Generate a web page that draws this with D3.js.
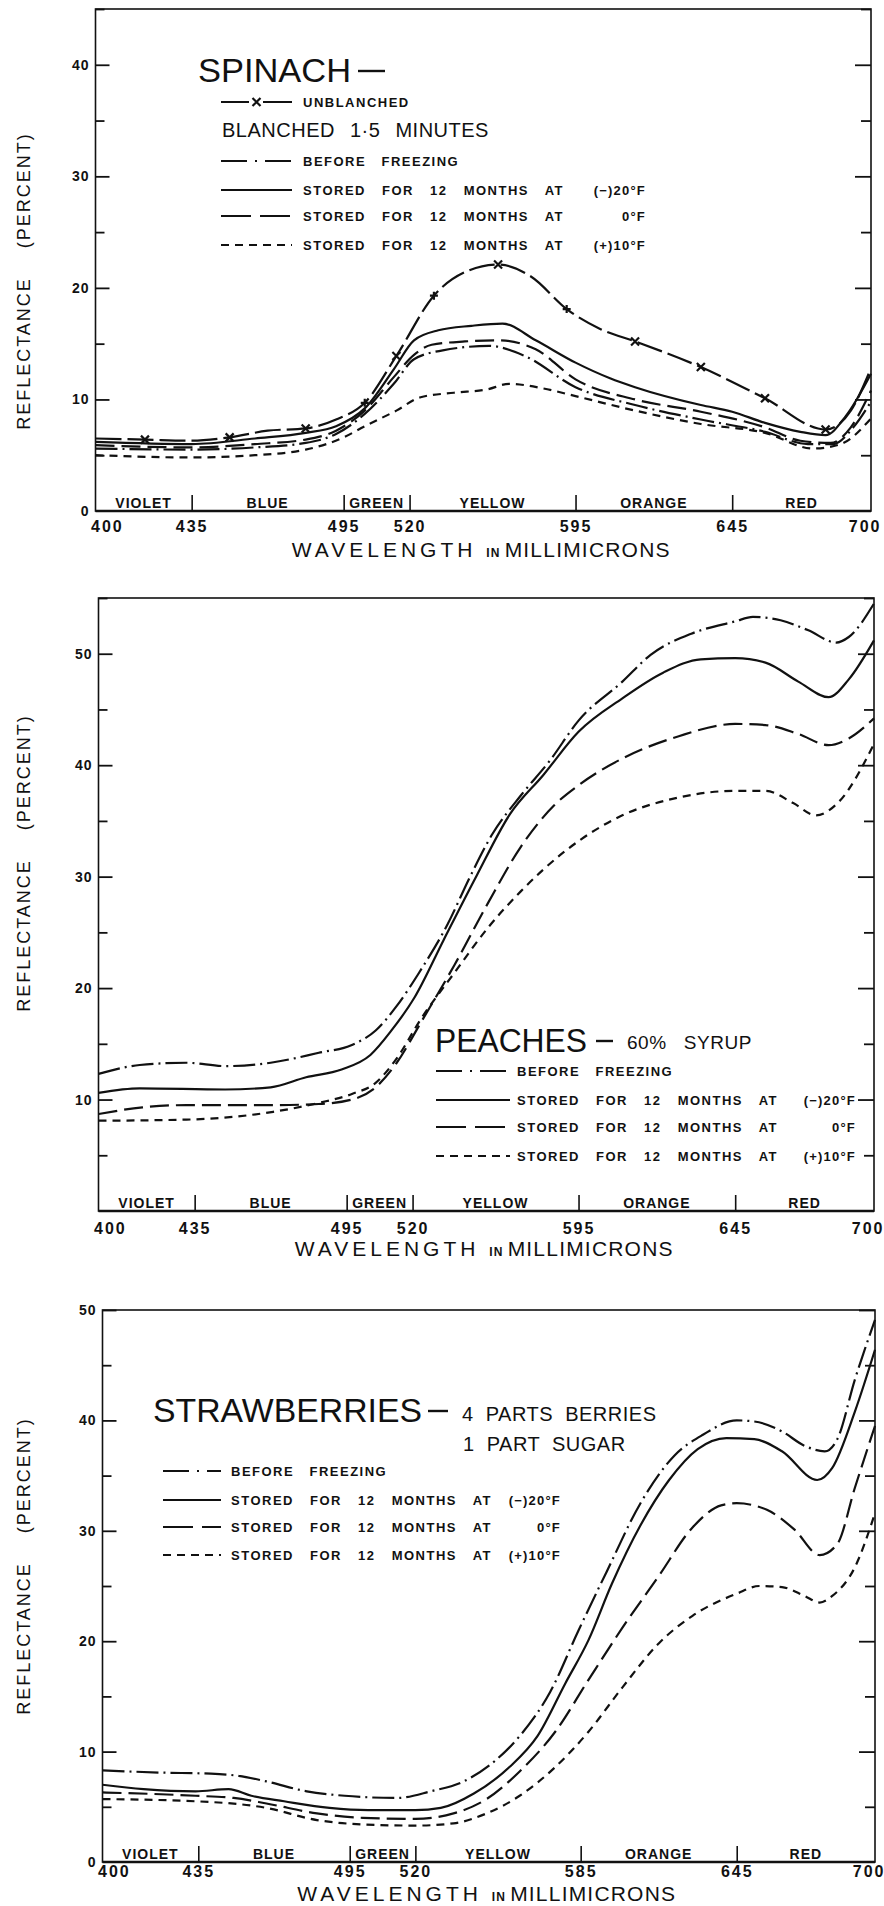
<!DOCTYPE html>
<html><head><meta charset="utf-8">
<script src="https://cdn.jsdelivr.net/npm/d3@7"></script>
<style>
html,body{margin:0;padding:0;background:#fff;}
svg{display:block;}
text{font-family:"Liberation Sans",Arial,sans-serif;fill:#111;}
</style></head><body>
<svg id="c" width="884" height="1906"></svg>
<script>
// ---------------- DATA ----------------
const bandNames = ["VIOLET","BLUE","GREEN","YELLOW","ORANGE","RED"];
const spinachXTicks = [400,435,495,520,595,645,700];
const peachXTicks   = [400,435,495,520,595,645,700];
const strawXTicks   = [400,435,495,520,585,645,700];
const spinachYLabels = [0,10,20,30,40];
const peachYLabels   = [10,20,30,40,50];
const strawYLabels   = [0,10,20,30,40,50];
const temps = ["(\u2212)20\u00B0F","0\u00B0F","(+)10\u00B0F"];
const storedLabel = "STORED FOR 12 MONTHS AT";
const beforeLabel = "BEFORE   FREEZING";

// Spinach
const spinachUnblanched = [[400,6.5],[418,6.4],[435,6.3],[450,6.6],[465,7.2],[480,7.4],[492,8.2],[503,9.7],[515,13.9],[531,19.3],[546,21.5],[560,22.1],[575,21.0],[591,18.1],[603,16.3],[614,15.2],[635,12.9],[658,10.1],[682,7.3],[692,9.0],[700,12.8]];
const spinachMarkX = [418,450,480,515,560,614,635,658,682];
const spinachMarkPlus = [503,531,591];
const spinachBefore = [[400,5.6],[435,5.5],[460,5.7],[480,6.1],[492,6.9],[503,8.7],[514,11.4],[522,13.6],[535,14.4],[556,14.8],[572,13.9],[595,11.1],[614,9.5],[635,8.2],[658,7.1],[675,6.0],[685,6.0],[693,7.5],[700,9.8]];
const spinachMinus20 = [[400,6.2],[435,6.0],[460,6.5],[480,7.0],[492,7.6],[503,9.2],[514,12.7],[522,15.3],[533,16.2],[548,16.6],[562,16.8],[577,15.3],[595,13.3],[606,11.9],[614,11.1],[635,9.5],[645,8.9],[658,7.9],[672,7.1],[682,6.8],[690,8.5],[700,12.3]];
const spinachZero = [[400,5.9],[435,5.7],[460,6.0],[480,6.4],[492,7.2],[503,9.0],[514,12.0],[522,14.0],[530,14.9],[545,15.2],[560,15.3],[577,14.5],[595,11.8],[614,10.0],[635,8.9],[658,7.5],[672,6.3],[684,6.1],[692,7.5],[700,10.8]];
const spinachPlus10 = [[400,5.0],[435,4.8],[460,5.0],[480,5.5],[495,6.6],[503,7.6],[515,9.0],[525,10.2],[540,10.6],[555,10.9],[565,11.4],[580,11.0],[595,10.3],[614,9.0],[635,7.8],[658,7.0],[677,5.6],[688,6.0],[700,8.3]];

// Peaches
const peachBefore = [[400,12.3],[415,13.1],[432,13.3],[447,13.0],[465,13.3],[484,14.2],[497,14.9],[506,16.2],[514,18.4],[523,21.4],[536,25.8],[546,30.0],[556,33.8],[569,37.3],[582,40.4],[595,44.0],[609,47.5],[618,49.9],[631,51.8],[645,52.9],[652,53.3],[663,53.0],[674,52.1],[685,51.0],[690,51.5],[700,54.5]];
const peachMinus20 = [[400,10.6],[415,11.0],[447,10.9],[465,11.1],[479,12.0],[493,12.7],[504,14.0],[512,16.2],[521,19.2],[534,24.3],[549,30.1],[564,35.6],[579,39.1],[595,43.0],[609,46.0],[622,48.3],[634,49.5],[645,49.6],[657,49.2],[670,47.5],[682,46.1],[690,47.7],[700,51.2]];
const peachZero = [[400,8.7],[416,9.3],[432,9.5],[466,9.5],[484,9.6],[497,10.0],[506,11.1],[514,13.3],[524,17.0],[539,22.1],[554,27.6],[569,32.7],[584,36.4],[595,38.2],[609,40.6],[627,42.6],[645,43.7],[657,43.6],[670,42.8],[682,41.8],[690,42.4],[700,44.2]];
const peachPlus10 = [[400,8.1],[432,8.2],[466,8.9],[484,9.7],[497,10.5],[506,11.5],[514,13.7],[524,17.3],[539,21.4],[554,25.4],[569,28.7],[589,32.3],[609,35.5],[627,37.1],[645,37.7],[657,37.7],[668,36.6],[677,35.5],[686,36.7],[700,41.9]];

// Strawberries
const strawBefore = [[400,8.3],[421,8.1],[440,8.0],[451,7.8],[462,7.3],[478,6.4],[493,6.0],[513,5.8],[526,6.4],[539,7.3],[552,9.3],[561,11.4],[573,15.4],[584,20.9],[595,26.3],[608,32.5],[621,36.8],[632,38.7],[645,40.0],[652,39.9],[663,39.0],[672,37.7],[680,37.2],[685,38.3],[692,43.7],[700,49.1]];
const strawMinus20 = [[400,7.0],[415,6.6],[434,6.4],[447,6.6],[456,6.0],[469,5.5],[487,4.9],[502,4.7],[520,4.7],[530,4.9],[543,6.2],[557,8.6],[568,11.4],[579,16.2],[588,20.1],[597,25.2],[608,30.5],[619,34.6],[630,37.4],[641,38.4],[652,38.3],[663,37.2],[677,34.6],[683,35.7],[692,40.8],[700,46.4]];
const strawZero = [[400,6.3],[434,6.0],[449,5.8],[462,5.3],[482,4.4],[500,4.0],[520,3.9],[535,4.4],[548,5.7],[561,8.2],[575,11.8],[588,16.5],[601,21.2],[615,25.9],[628,30.3],[639,32.3],[645,32.5],[657,31.9],[668,30.1],[678,27.8],[685,28.8],[692,33.9],[700,39.5]];
const strawPlus10 = [[400,5.7],[434,5.5],[462,4.9],[482,3.8],[500,3.4],[520,3.3],[535,3.5],[548,4.4],[561,6.0],[575,8.6],[588,11.8],[601,15.8],[615,19.8],[628,22.3],[645,24.3],[654,25.0],[663,24.9],[672,24.1],[678,23.5],[683,24.1],[692,26.7],[700,31.6]];

// ---------------- STYLES / LAYOUT ----------------
const dashes = {
  before: "22,5,2,5",
  minus20: null,
  zero: "19,7",
  plus10: "8,6",
  unbl: "26,6"
};
const bandFrac = [0,0.124,0.32,0.405,0.619,0.821,1];
const INK = "#111";
const svg = d3.select("#c");

const charts = [
  { left:95.5, right:871, top:9, bottom:511, ymax:45, xTicks:spinachXTicks, yLabels:spinachYLabels,
    xLabOff:16, xTitleY:549, yTitleY:281,
    series:[["unbl",spinachUnblanched],["before",spinachBefore],["minus20",spinachMinus20],["zero",spinachZero],["plus10",spinachPlus10]],
    legend:{lineX0:221,lineX1:292,textX:303,tempR:646,rows:[161,190,216,245]} },
  { left:98.5, right:874, top:598, bottom:1211, ymax:55, xTicks:peachXTicks, yLabels:peachYLabels,
    xLabOff:18, xTitleY:1248, yTitleY:863,
    series:[["before",peachBefore],["minus20",peachMinus20],["zero",peachZero],["plus10",peachPlus10]],
    legend:{lineX0:436,lineX1:510,textX:517,tempR:856,rows:[1071,1100,1127,1156]} },
  { left:102.5, right:875, top:1310, bottom:1862, ymax:50, xTicks:strawXTicks, yLabels:strawYLabels,
    xLabOff:10, xTitleY:1893, yTitleY:1566,
    series:[["before",strawBefore],["minus20",strawMinus20],["zero",strawZero],["plus10",strawPlus10]],
    legend:{lineX0:163,lineX1:221,textX:231,tempR:561,rows:[1471,1500,1527,1555]} }
];

function txt(g, s, x, yc, size, opts={}) {
  const t = g.append("text").attr("x", x).attr("y", yc + size*0.36)
    .attr("font-size", size).text(s)
    .attr("font-weight", opts.bold ? "bold" : "normal")
    .attr("text-anchor", opts.anchor || "start");
  if (opts.ls != null) t.attr("letter-spacing", opts.ls);
  if (opts.ws != null) t.attr("word-spacing", opts.ws);
  if (opts.pre) t.style("white-space","pre");
  if (opts.len) t.attr("textLength", opts.len).attr("lengthAdjust","spacingAndGlyphs");
  return t;
}

function title(g, word, x, yc, size, wordLen, dashX, dashLen) {
  txt(g, word, x, yc, size, {len: wordLen});
  g.append("line").attr("x1", dashX).attr("x2", dashX + dashLen)
    .attr("y1", yc + 1).attr("y2", yc + 1).attr("stroke", INK).attr("stroke-width", 2.4);
}

function drawChart(cfg) {
  const x = d3.scaleLinear().domain(cfg.xTicks)
    .range(bandFrac.map(f => cfg.left + f*(cfg.right-cfg.left)));
  const y = d3.scaleLinear().domain([0,cfg.ymax]).range([cfg.bottom,cfg.top]);
  const g = svg.append("g");

  // frame
  g.append("rect").attr("x",cfg.left).attr("y",cfg.top)
    .attr("width",cfg.right-cfg.left).attr("height",cfg.bottom-cfg.top)
    .attr("fill","none").attr("stroke",INK).attr("stroke-width",1.6);
  g.append("line").attr("x1",cfg.left).attr("x2",cfg.right)
    .attr("y1",cfg.bottom).attr("y2",cfg.bottom).attr("stroke",INK).attr("stroke-width",2.6);

  const minor = d3.range(5, cfg.ymax+0.1, 5).filter(v => v % 10 !== 0);
  const major = d3.range(10, cfg.ymax+0.1, 10);

  // left axis (ticks inside)
  const la = g.append("g").attr("transform",`translate(${cfg.left},0)`)
    .call(d3.axisLeft(y).tickValues(cfg.yLabels).tickSize(0).tickPadding(6).tickFormat(d3.format("d")));
  la.select(".domain").remove();
  la.selectAll("text").attr("font-size",14).attr("font-weight","bold")
    .attr("font-family","Liberation Sans, Arial, sans-serif").attr("fill",INK).attr("letter-spacing",1);
  const lt = g.append("g").attr("transform",`translate(${cfg.left},0)`)
    .call(d3.axisLeft(y).tickValues(major).tickSize(-14).tickFormat(""));
  lt.select(".domain").remove();
  const lm = g.append("g").attr("transform",`translate(${cfg.left},0)`)
    .call(d3.axisLeft(y).tickValues(minor).tickSize(-9).tickFormat(""));
  lm.select(".domain").remove();
  // right axis ticks inside
  const rt = g.append("g").attr("transform",`translate(${cfg.right},0)`)
    .call(d3.axisRight(y).tickValues(major).tickSize(-16).tickFormat(""));
  rt.select(".domain").remove();
  const rm = g.append("g").attr("transform",`translate(${cfg.right},0)`)
    .call(d3.axisRight(y).tickValues(minor).tickSize(-10).tickFormat(""));
  rm.select(".domain").remove();
  g.selectAll(".tick line").attr("stroke",INK).attr("stroke-width",1.8);

  // bottom axis labels
  const n = cfg.xTicks.length;
  const ba = g.append("g").attr("transform",`translate(0,${cfg.bottom})`)
    .call(d3.axisBottom(x).tickValues(cfg.xTicks).tickSize(0).tickPadding(cfg.xLabOff-6).tickFormat(d3.format("d")));
  ba.select(".domain").remove();
  ba.selectAll("text").attr("font-size",16).attr("font-weight","bold")
    .attr("font-family","Liberation Sans, Arial, sans-serif").attr("fill",INK).attr("letter-spacing",2)
    .attr("text-anchor",(d,i)=> i===0 ? "start" : (i===n-1 ? "end" : "middle"))
    .attr("dx",(d,i)=> i===0 ? -5 : (i===n-1 ? 10 : 0));
  // band separators
  const sep = g.append("g").attr("transform",`translate(0,${cfg.bottom})`)
    .call(d3.axisBottom(x).tickValues(cfg.xTicks.slice(1,-1)).tickSize(-16).tickFormat(""));
  sep.select(".domain").remove();
  sep.selectAll("line").attr("stroke",INK).attr("stroke-width",1.6);
  // band names
  bandNames.forEach((b,i) => {
    const cx = (x(cfg.xTicks[i]) + x(cfg.xTicks[i+1]))/2;
    g.append("text").attr("x",cx).attr("y",cfg.bottom-3.5).attr("text-anchor","middle")
      .attr("font-size",14).attr("font-weight","bold").attr("letter-spacing",1).text(b);
  });

  // axis titles
  const cxT = (cfg.left+cfg.right)/2;
  const xt = g.append("text").attr("x",cxT - 2).attr("y",cfg.xTitleY + 7.5)
    .attr("text-anchor","middle").attr("font-size",21).attr("fill",INK);
  xt.append("tspan").attr("letter-spacing",4).text("WAVELENGTH ");
  xt.append("tspan").attr("font-size",12).attr("font-weight","bold").attr("letter-spacing",1).text("IN ");
  xt.append("tspan").attr("letter-spacing",1.2).text("MILLIMICRONS");

  g.append("text").attr("transform",`translate(23,${cfg.yTitleY}) rotate(-90)`)
    .attr("text-anchor","middle").attr("y",6.5).attr("font-size",18).attr("letter-spacing",2)
    .attr("word-spacing",22).text("REFLECTANCE (PERCENT)");

  // curves
  const line = d3.line().x(d => x(d[0])).y(d => y(d[1])).curve(d3.curveMonotoneX);
  cfg.series.forEach(([key,data]) => {
    const p = g.append("path").datum(data).attr("d",line).attr("fill","none")
      .attr("stroke",INK).attr("stroke-width",2.2).attr("stroke-linejoin","round");
    if (dashes[key]) p.attr("stroke-dasharray",dashes[key]);
  });
  return {x,y,g};
}

function marker(g, cx, cy, plus) {
  const s = 4;
  const path = plus ? `M${cx-s},${cy}L${cx+s},${cy}M${cx},${cy-s}L${cx},${cy+s}`
                    : `M${cx-s},${cy-s}L${cx+s},${cy+s}M${cx-s},${cy+s}L${cx+s},${cy-s}`;
  g.append("path").attr("d",path).attr("stroke",INK).attr("stroke-width",2.2).attr("fill","none");
}

function legendRows(g, L, keys, labels) {
  keys.forEach((k,i) => {
    const yc = L.rows[i];
    const ln = g.append("line").attr("x1",L.lineX0).attr("x2",L.lineX1).attr("y1",yc).attr("y2",yc)
      .attr("stroke",INK).attr("stroke-width",2.2);
    if (dashes[k]) ln.attr("stroke-dasharray", k==="before" ? "26,8,2,8" : (k==="zero" ? "30,9" : dashes[k]));
    if (i === 0) {
      txt(g, labels[0], L.textX, yc, 13, {bold:true, ls:1.5, pre:true});
    } else {
      txt(g, storedLabel, L.textX, yc, 13, {bold:true, ls:1.5, ws:11});
      txt(g, temps[i-1], L.tempR, yc, 13, {bold:true, ls:1.2, anchor:"end"});
    }
  });
}

// ---- Spinach ----
(function(){
  const cfg = charts[0];
  const {x,y,g} = drawChart(cfg);
  spinachUnblanched.forEach(d => {
    if (spinachMarkX.includes(d[0])) marker(g, x(d[0]), y(d[1]), false);
    if (spinachMarkPlus.includes(d[0])) marker(g, x(d[0]), y(d[1]), true);
  });
  title(g, "SPINACH", 198, 70, 34, 153, 358, 27);
  // unblanched legend
  g.append("line").attr("x1",221).attr("x2",292).attr("y1",102).attr("y2",102)
    .attr("stroke",INK).attr("stroke-width",2.2).attr("stroke-dasharray","28,14,29");
  marker(g, 256.5, 102, false);
  txt(g, "UNBLANCHED", 303, 102, 13, {bold:true, ls:1.5});
  txt(g, "BLANCHED 1\u00B75 MINUTES", 222, 130, 20, {ws:9, ls:0.5});
  legendRows(g, cfg.legend, ["before","minus20","zero","plus10"], [beforeLabel]);
})();

// ---- Peaches ----
(function(){
  const cfg = charts[1];
  const {g} = drawChart(cfg);
  title(g, "PEACHES", 435, 1040, 33, 152, 596, 17);
  txt(g, "60%   SYRUP", 627, 1042, 19, {pre:true, ls:0.5});
  legendRows(g, cfg.legend, ["before","minus20","zero","plus10"], [beforeLabel]);
})();

// ---- Strawberries ----
(function(){
  const cfg = charts[2];
  const {g} = drawChart(cfg);
  title(g, "STRAWBERRIES", 153, 1410, 33, 269, 428, 20);
  txt(g, "4  PARTS  BERRIES", 462, 1414, 20, {pre:true, ls:0.5});
  txt(g, "1  PART  SUGAR", 463, 1444, 20, {pre:true, ls:0.5});
  legendRows(g, cfg.legend, ["before","minus20","zero","plus10"], [beforeLabel]);
})();
</script>
</body></html>
